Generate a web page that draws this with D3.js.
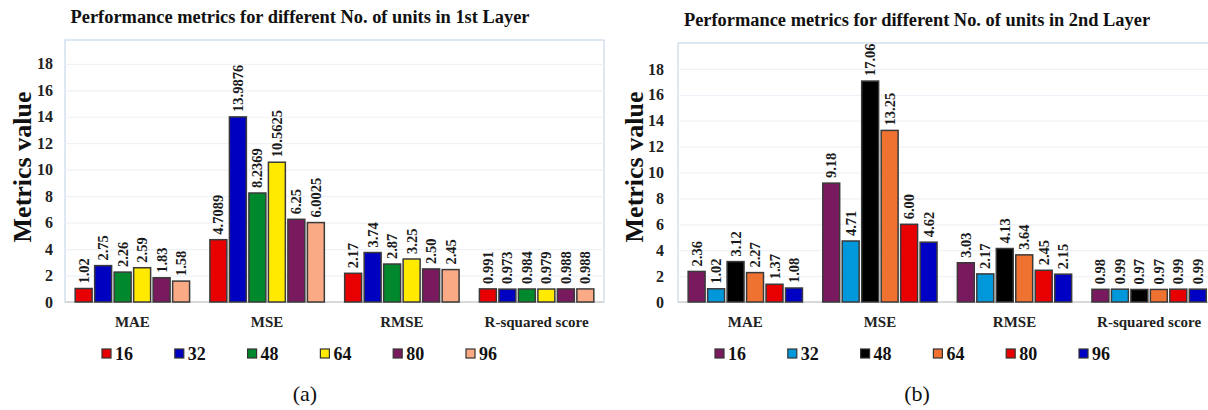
<!DOCTYPE html>
<html>
<head>
<meta charset="utf-8">
<script src="https://cdn.jsdelivr.net/npm/d3@7"></script>
<style>
  body { margin: 0; background: #fff; }
  svg { display: block; }
  svg text { font-family: "Liberation Serif", "Times New Roman", serif; }
</style>
</head>
<body>
<div class="canvas"></div>
<script>
// chart data
const categories = ['MAE', 'MSE', 'RMSE', 'R-squared score'];
const units = ['16', '32', '48', '64', '80', '96'];
const yTicks = [0, 2, 4, 6, 8, 10, 12, 14, 16, 18];

// one row per unit, one entry per metric, kept as printed on the bars
const layer1Values = [
  ['1.02', '4.7089', '2.17', '0.991'],
  ['2.75', '13.9876', '3.74', '0.973'],
  ['2.26', '8.2369', '2.87', '0.984'],
  ['2.59', '10.5625', '3.25', '0.979'],
  ['1.83', '6.25', '2.50', '0.988'],
  ['1.58', '6.0025', '2.45', '0.988']
];
const layer2Values = [
  ['2.36', '9.18', '3.03', '0.98'],
  ['1.02', '4.71', '2.17', '0.99'],
  ['3.12', '17.06', '4.13', '0.97'],
  ['2.27', '13.25', '3.64', '0.97'],
  ['1.37', '6.00', '2.45', '0.99'],
  ['1.08', '4.62', '2.15', '0.99']
];

const layer1Colors = ['#e80000', '#0000c0', '#00882c', '#ffea00', '#7a1a5e', '#fbaa86'];
const layer2Colors = ['#7a1a5e', '#0098da', '#000000', '#ef7231', '#e80000', '#0000c4'];

const svg = d3.select('.canvas')
  .append('svg')
  .attr('width', 1208)
  .attr('height', 410);

// draws one panel
const drawPanel = (cfg) => {
  const g = svg.append('g');

  const x = d3.scaleBand()
    .domain(categories)
    .range([cfg.left, cfg.left + cfg.band * categories.length]);

  const y = d3.scaleLinear()
    .domain([0, cfg.yMax])
    .range([cfg.base, cfg.top]);

  // plot area frame
  g.append('rect')
    .attr('x', cfg.left)
    .attr('y', cfg.top)
    .attr('width', x.range()[1] - cfg.left)
    .attr('height', cfg.base - cfg.top)
    .attr('fill', 'none')
    .attr('stroke', '#c9d9ec')
    .attr('stroke-width', 1.2);

  // gridlines
  g.selectAll('.grid')
    .data(yTicks.filter(t => t > 0))
    .enter()
    .append('line')
    .attr('x1', cfg.left)
    .attr('x2', x.range()[1])
    .attr('y1', d => y(d) + 0.5)
    .attr('y2', d => y(d) + 0.5)
    .attr('stroke', '#eef1f6')
    .attr('stroke-width', 1.2);

  // baseline
  g.append('line')
    .attr('x1', cfg.left)
    .attr('x2', x.range()[1])
    .attr('y1', y(0))
    .attr('y2', y(0))
    .attr('stroke', '#d4d4d4')
    .attr('stroke-width', 1.5);

  // y tick labels
  g.selectAll('.ytick')
    .data(yTicks)
    .enter()
    .append('text')
    .attr('x', cfg.tickX)
    .attr('y', d => y(d))
    .attr('dy', '0.35em')
    .attr('text-anchor', 'end')
    .attr('font-size', 16)
    .attr('font-weight', 'bold')
    .attr('fill', '#222')
    .text(d => d);

  // y title
  g.append('text')
    .attr('transform', `translate(${cfg.titleX}, 167) rotate(-90)`)
    .attr('text-anchor', 'middle')
    .attr('font-size', 26)
    .attr('font-weight', 'bold')
    .attr('fill', '#111')
    .text('Metrics value');

  // chart title
  g.append('text')
    .attr('x', cfg.headX)
    .attr('y', cfg.headY)
    .attr('text-anchor', 'middle')
    .attr('font-size', 18.4)
    .attr('font-weight', 'bold')
    .attr('fill', '#111')
    .text(cfg.title);

  // category labels
  g.selectAll('.cat')
    .data(categories)
    .enter()
    .append('text')
    .attr('x', d => x(d) + x.bandwidth() / 2)
    .attr('y', 327)
    .attr('text-anchor', 'middle')
    .attr('font-size', 15)
    .attr('font-weight', 'bold')
    .attr('fill', '#222')
    .text(d => d);

  // bars, grouped by category
  const half = x.bandwidth() * 0.434;
  const groups = g.selectAll('.group')
    .data(categories)
    .enter()
    .append('g')
    .attr('transform', d => `translate(${x(d) + x.bandwidth() / 2}, 0)`);

  const sub = d3.scaleBand()
    .domain(units)
    .range([-half, half])
    .paddingInner(0.13)
    .paddingOuter(0.065);

  groups.each(function(cat, ci) {
    const cells = units.map((u, ui) => ({unit: u, label: cfg.values[ui][ci], color: cfg.colors[ui]}));
    const grp = d3.select(this);

    grp.selectAll('rect')
      .data(cells)
      .enter()
      .append('rect')
      .attr('x', d => sub(d.unit))
      .attr('width', sub.bandwidth())
      .attr('y', d => y(+d.label))
      .attr('height', d => y(0) - y(+d.label))
      .attr('fill', d => d.color)
      .attr('stroke', '#3a3a3a')
      .attr('stroke-width', 1.5);

    grp.selectAll('.lbl')
      .data(cells)
      .enter()
      .append('text')
      .attr('transform', d => `translate(${sub(d.unit) + sub.bandwidth() / 2}, ${y(+d.label) - 5}) rotate(-90)`)
      .attr('dy', '0.35em')
      .attr('font-size', 14.5)
      .attr('font-weight', 'bold')
      .attr('fill', '#1a1a1a')
      .text(d => d.label);
  });

  // legend
  const legend = g.selectAll('.legend')
    .data(units)
    .enter()
    .append('g')
    .attr('transform', (d, i) => `translate(${cfg.legendX + i * 72.8}, 349)`);

  legend.append('rect')
    .attr('width', 9)
    .attr('height', 9)
    .attr('fill', (d, i) => cfg.colors[i])
    .attr('stroke', '#333')
    .attr('stroke-width', 1.2);

  legend.append('text')
    .attr('x', 13)
    .attr('y', 11)
    .attr('font-size', 18)
    .attr('font-weight', 'bold')
    .attr('fill', '#111')
    .text(d => d);

  // caption
  g.append('text')
    .attr('x', cfg.capX)
    .attr('y', 401)
    .attr('text-anchor', 'middle')
    .attr('font-size', 22)
    .attr('fill', '#111')
    .text(cfg.caption);
};

drawPanel({
  left: 65, band: 134.75, top: 40, base: 302, yMax: 19.8,
  tickX: 53, titleX: 31, headX: 300, headY: 23,
  legendX: 102, capX: 305,
  title: 'Performance metrics for different No. of units in 1st Layer',
  caption: '(a)',
  values: layer1Values, colors: layer1Colors
});

drawPanel({
  left: 678, band: 134.6, top: 43, base: 302, yMax: 20,
  tickX: 664, titleX: 643, headX: 917, headY: 26,
  legendX: 715, capX: 917,
  title: 'Performance metrics for different No. of units in 2nd Layer',
  caption: '(b)',
  values: layer2Values, colors: layer2Colors
});
</script>
</body>
</html>
